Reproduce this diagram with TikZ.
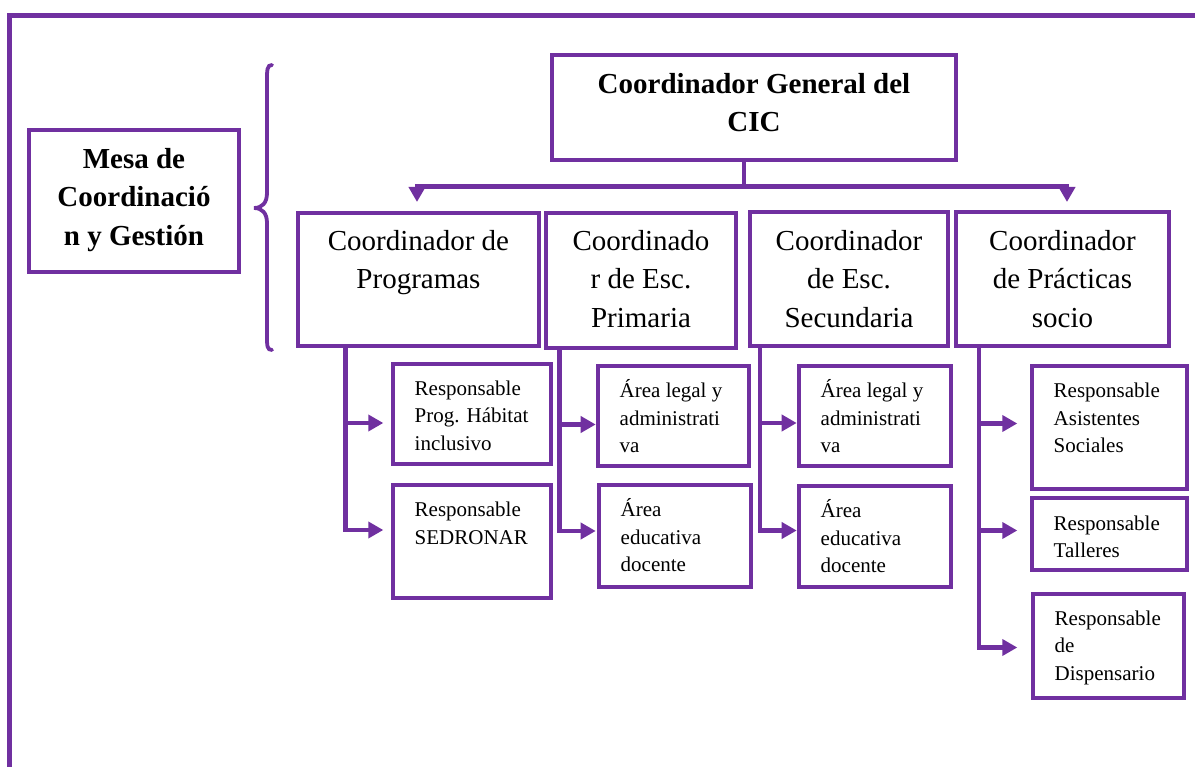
\documentclass[tikz,border=0pt]{standalone}
\usepackage{fontspec}
\setmainfont{Liberation Serif}
\usepackage{tikz}
\usetikzlibrary{arrows.meta}
\definecolor{cicpurple}{RGB}{112,48,160}

\begin{document}
\begin{tikzpicture}[x=1pt, y=-1pt]
    % Define styles
    \tikzstyle{box} = [rectangle, draw=cicpurple, line width=4.5pt,
        inner sep=0pt, outer sep=0pt, anchor=north west]
    \tikzstyle{bigtext} = [text width=380pt, align=flush center, anchor=base,
        inner sep=0pt, font=\fontsize{29}{38.4}\selectfont]
    \tikzstyle{boldtext} = [bigtext, font=\fontsize{29}{38.4}\selectfont\bfseries]
    \tikzstyle{smalltext} = [text width=150pt, align=flush left, anchor=base west,
        inner sep=0pt, font=\fontsize{21}{27.5}\selectfont]
    \tikzstyle{line} = [draw=cicpurple, line width=4.5pt]
    \tikzstyle{arrow} = [line, -{Triangle[length=15pt, width=16pt]}]

    \useasboundingbox (0,0) rectangle (1195,767);

    % Outer frame
    \draw [line, line width=4.8pt] (9.5,767) -- (9.5,15.8) -- (1195,15.8);

    % Place nodes
    \node [box, minimum width=210pt, minimum height=142pt] (mesa) at (29,130) {};
    \node [boldtext] at ([yshift=-38.3pt]mesa.north) {Mesa de\\Coordinació\\n y Gestión};

    \node [box, minimum width=404pt, minimum height=105pt] (cg) at (552,55) {};
    \node [boldtext] at ([yshift=-38.3pt]cg.north) {Coordinador General del\\CIC};

    \node [box, minimum width=241pt, minimum height=133pt] (prog) at (298,213) {};
    \node [bigtext] at ([yshift=-37.5pt]prog.north) {Coordinador de\\Programas};
    \node [box, minimum width=190pt, minimum height=135pt] (prim) at (546,213) {};
    \node [bigtext] at ([yshift=-37.5pt]prim.north) {Coordinado\\r de Esc.\\Primaria};
    \node [box, minimum width=198pt, minimum height=134pt] (sec) at (750,212) {};
    \node [bigtext] at ([yshift=-38.5pt]sec.north) {Coordinador\\de Esc.\\Secundaria};
    \node [box, minimum width=213pt, minimum height=134pt] (prac) at (956,212) {};
    \node [bigtext] at ([yshift=-38.5pt]prac.north) {Coordinador\\de Prácticas\\socio};

    % Second level boxes
    \node [box, minimum width=158pt, minimum height=100pt] (hab) at (393,364) {};
    \node [smalltext] at ([xshift=21.5pt, yshift=-31.5pt]hab.north west) {Responsable\\Prog. Hábitat\\inclusivo};
    \node [box, minimum width=158pt, minimum height=113pt] (sedr) at (393,485) {};
    \node [smalltext] at ([xshift=21.5pt, yshift=-31.5pt]sedr.north west) {Responsable\\SEDRONAR};

    \node [box, minimum width=151pt, minimum height=100pt] (legalprim) at (598,366) {};
    \node [smalltext] at ([xshift=21.5pt, yshift=-32pt]legalprim.north west) {Área legal y\\administrati\\va};
    \node [box, minimum width=152pt, minimum height=102pt] (eduprim) at (599,485) {};
    \node [smalltext] at ([xshift=21.5pt, yshift=-31.5pt]eduprim.north west) {Área\\educativa\\docente};

    \node [box, minimum width=152pt, minimum height=100pt] (legalsec) at (799,366) {};
    \node [smalltext] at ([xshift=21.5pt, yshift=-32pt]legalsec.north west) {Área legal y\\administrati\\va};
    \node [box, minimum width=152pt, minimum height=101pt] (edusec) at (799,486) {};
    \node [smalltext] at ([xshift=21.5pt, yshift=-31.5pt]edusec.north west) {Área\\educativa\\docente};

    \node [box, minimum width=155pt, minimum height=123pt] (asist) at (1032,366) {};
    \node [smalltext] at ([xshift=21.5pt, yshift=-32pt]asist.north west) {Responsable\\Asistentes\\Sociales};
    \node [box, minimum width=155pt, minimum height=72pt] (talleres) at (1032,498) {};
    \node [smalltext] at ([xshift=21.5pt, yshift=-32pt]talleres.north west) {Responsable\\Talleres};
    \node [box, minimum width=151pt, minimum height=104pt] (disp) at (1033,594) {};
    \node [smalltext] at ([xshift=21.5pt, yshift=-31pt]disp.north west) {Responsable\\de\\Dispensario};

    % Brace beside the Mesa
    \draw [line, line width=3.8pt, line cap=round]
        (272,65) .. controls (267,65) and (267,70) .. (267,80) -- (267,193)
        .. controls (267,203) and (262,208) .. (254,208)
        .. controls (262,208) and (267,213) .. (267,223) -- (267,336)
        .. controls (267,346) and (267,350) .. (272,350);

    % Draw edges
    \coordinate (bus) at (744,186.5);
    \path [line] (cg.south -| bus) -- (bus);
    \path [arrow, shorten >=11pt] (bus) -| ([xshift=-1.5pt]prog.north);
    \path [arrow, shorten >=10pt] (bus) -| ([xshift=4.5pt]prac.north);

    \path [arrow, shorten >=9.7pt] ([xshift=47.5pt]prog.south west) |- ([yshift=-9pt]hab.west);
    \path [arrow, shorten >=9.7pt] ([xshift=47.5pt]prog.south west) |- ([yshift=11.5pt]sedr.west);

    \path [arrow, shorten >=2.3pt] ([xshift=13.5pt]prim.south west) |- ([yshift=-8.5pt]legalprim.west);
    \path [arrow, shorten >=3.3pt] ([xshift=13.5pt]prim.south west) |- ([yshift=5pt]eduprim.west);

    \path [arrow, shorten >=2.3pt] ([xshift=10pt]sec.south west) |- ([yshift=-7pt]legalsec.west);
    \path [arrow, shorten >=2.3pt] ([xshift=10pt]sec.south west) |- ([yshift=6pt]edusec.west);

    \path [arrow, shorten >=14.7pt] ([xshift=23pt]prac.south west) |- ([yshift=4pt]asist.west);
    \path [arrow, shorten >=14.7pt] ([xshift=23pt]prac.south west) |- ([yshift=3.5pt]talleres.west);
    \path [arrow, shorten >=15.7pt] ([xshift=23pt]prac.south west) |- ([yshift=-1.5pt]disp.west);
\end{tikzpicture}
\end{document}
